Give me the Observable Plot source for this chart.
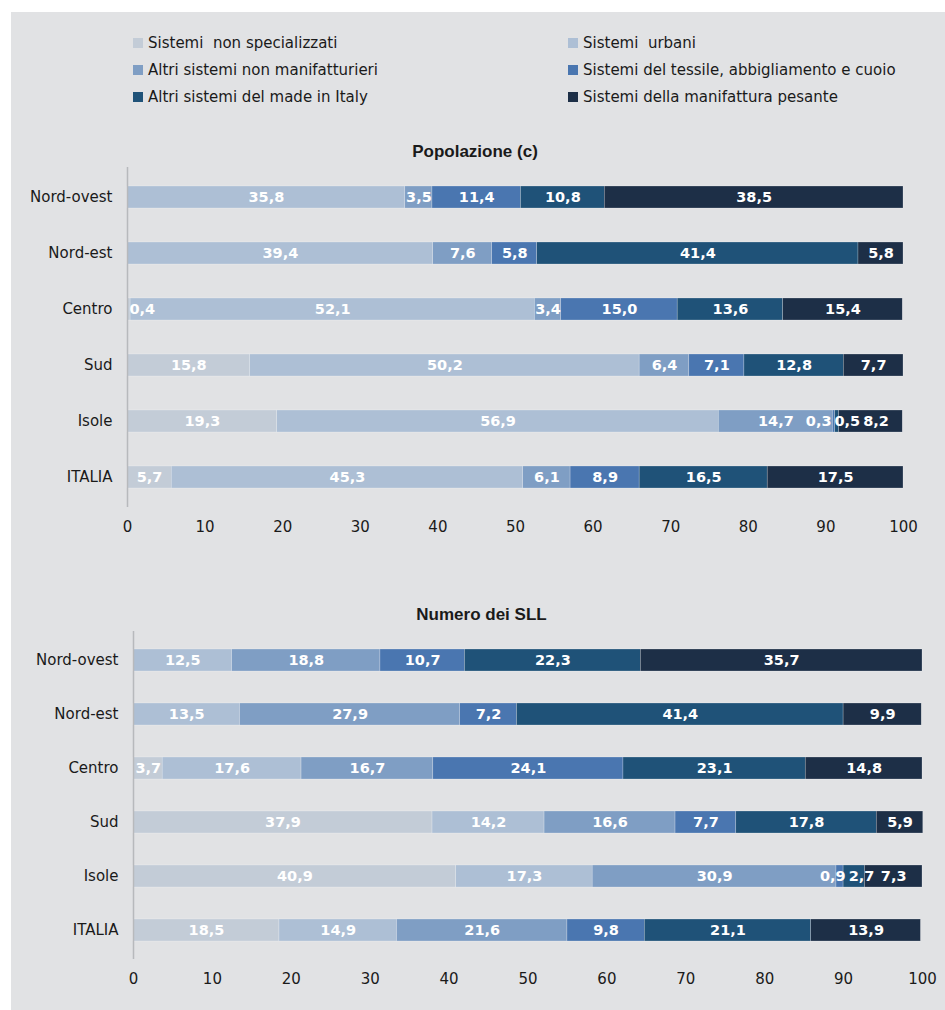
<!DOCTYPE html>
<html>
<head>
<meta charset="utf-8">
<script src="https://cdn.jsdelivr.net/npm/d3@7"></script>
<script src="https://cdn.jsdelivr.net/npm/@observablehq/plot@0.6"></script>
<style>
  html, body { margin: 0; padding: 0; background: #ffffff; }
  body { width: 945px; height: 1010px; position: relative; overflow: hidden; }
  #panel { position: absolute; left: 11px; top: 12px; width: 934px; height: 998px; background: #e1e2e4; }
  .abs { position: absolute; }
  .title { position: absolute; font-family: "Liberation Sans", Arial, sans-serif; font-weight: bold; font-size: 17px; color: #1a1a1a; text-align: center; line-height: 20px; }
  .leg { position: absolute; font-family: "DejaVu Sans", sans-serif; font-size: 15px; color: #1a1a1a; white-space: pre; line-height: 18px; display: flex; align-items: center; }
  .leg span.sw { display: inline-block; width: 10px; height: 10px; margin-right: 5px; }
</style>
</head>
<body>
<div id="panel"></div>
<div id="legend"></div>
<div class="title" style="left:0;width:950px;top:142px;">Popolazione (c)</div>
<div class="title" style="left:0;width:963px;top:605px;">Numero dei SLL</div>
<div id="c1" class="abs" style="left:0;top:130px;"></div>
<div id="c2" class="abs" style="left:0;top:560px;"></div>
<script>
// ---------------- DATA ----------------
const regions = ["Nord-ovest", "Nord-est", "Centro", "Sud", "Isole", "ITALIA"];
const systems = [
  "Sistemi  non specializzati",
  "Sistemi  urbani",
  "Altri sistemi non manifatturieri",
  "Sistemi del tessile, abbigliamento e cuoio",
  "Altri sistemi del made in Italy",
  "Sistemi della manifattura pesante"
];
const colors = ["#c3ccd7", "#adbfd5", "#7f9ec4", "#4a76b0", "#1f5278", "#1d2f47"];
const xTicks = [0, 10, 20, 30, 40, 50, 60, 70, 80, 90, 100];

// Popolazione (c) — values per region, in order of regions
const popNonSpecializzati = [0, 0, 0.4, 15.8, 19.3, 5.7];
const popUrbani           = [35.8, 39.4, 52.1, 50.2, 56.9, 45.3];
const popAltriNonManif    = [3.5, 7.6, 3.4, 6.4, 14.7, 6.1];
const popTessile          = [11.4, 5.8, 15.0, 7.1, 0.3, 8.9];
const popMadeInItaly      = [10.8, 41.4, 13.6, 12.8, 0.5, 16.5];
const popPesante          = [38.5, 5.8, 15.4, 7.7, 8.2, 17.5];

// Numero dei SLL
const sllNonSpecializzati = [0, 0, 3.7, 37.9, 40.9, 18.5];
const sllUrbani           = [12.5, 13.5, 17.6, 14.2, 17.3, 14.9];
const sllAltriNonManif    = [18.8, 27.9, 16.7, 16.6, 30.9, 21.6];
const sllTessile          = [10.7, 7.2, 24.1, 7.7, 0.9, 9.8];
const sllMadeInItaly      = [22.3, 41.4, 23.1, 17.8, 2.7, 21.1];
const sllPesante          = [35.7, 9.9, 14.8, 5.9, 7.3, 13.9];

const popSeries = [popNonSpecializzati, popUrbani, popAltriNonManif, popTessile, popMadeInItaly, popPesante];
const sllSeries = [sllNonSpecializzati, sllUrbani, sllAltriNonManif, sllTessile, sllMadeInItaly, sllPesante];

// ---------------- LEGEND ----------------
const legend = document.getElementById("legend");
const legCols = [133, 568];
const legRows = [43, 70, 97];
systems.forEach((s, i) => {
  const d = document.createElement("div");
  d.className = "leg";
  d.style.left = legCols[i % 2] + "px";
  d.style.top = (legRows[Math.floor(i / 2)] - 9) + "px";
  const sw = document.createElement("span");
  sw.className = "sw";
  sw.style.background = colors[i];
  d.appendChild(sw);
  d.appendChild(document.createTextNode(s));
  legend.appendChild(d);
});

// ---------------- CHART BUILDER ----------------
const canvas = document.createElement("canvas");
const ctx = canvas.getContext("2d");
const labelFont = "bold 14.5px 'DejaVu Sans'";
ctx.font = labelFont;

function fmt(v) { return v.toFixed(1).replace(".", ","); }

function build(series, opts) {
  const segs = [];
  const labels = [];
  const pxPerUnit = (opts.width - opts.marginLeft - opts.marginRight) / 100;
  const gap = 3 / pxPerUnit;
  const pad = 2 / pxPerUnit;
  regions.forEach((r, i) => {
    let acc = 0;
    const items = [];
    series.forEach((arr, j) => {
      const v = arr[i];
      if (v > 0) {
        segs.push({region: r, system: systems[j], x1: acc, x2: acc + v});
        const t = fmt(v);
        items.push({region: r, text: t, c: acc + v / 2, w: ctx.measureText(t).width / pxPerUnit});
      }
      acc += v;
    });
    // simple one-dimensional label repel
    let clusters = items.map(it => ({items: [it]}));
    const place = cl => {
      const total = cl.items.reduce((s, it) => s + it.w, 0) + gap * (cl.items.length - 1);
      let off = -total / 2;
      const offs = cl.items.map(it => { const o = off + it.w / 2; off += it.w + gap; return o; });
      let center = d3.mean(cl.items, (it, k) => it.c - offs[k]);
      center = Math.max(0 + pad + total / 2, Math.min(100 - pad - total / 2, center));
      cl.left = center - total / 2; cl.right = center + total / 2;
      cl.items.forEach((it, k) => it.x = center + offs[k]);
    };
    clusters.forEach(place);
    let changed = true;
    while (changed) {
      changed = false;
      for (let k = 0; k < clusters.length - 1; k++) {
        if (clusters[k].right + gap > clusters[k + 1].left) {
          clusters[k].items = clusters[k].items.concat(clusters[k + 1].items);
          clusters.splice(k + 1, 1);
          place(clusters[k]);
          changed = true;
          break;
        }
      }
    }
    items.forEach(it => labels.push(it));
  });

  return Plot.plot({
    width: opts.width,
    height: opts.height,
    marginTop: opts.marginTop,
    marginBottom: opts.marginBottom,
    marginLeft: opts.marginLeft,
    marginRight: opts.marginRight,
    style: {background: "transparent", fontFamily: "'DejaVu Sans', sans-serif", fontSize: "15px", color: "#1a1a1a", overflow: "visible"},
    x: {domain: [0, 100], ticks: xTicks, tickSize: 0, tickPadding: 14, label: null},
    y: {domain: regions, paddingInner: opts.padding, paddingOuter: opts.padding / 2, tickSize: 0, tickPadding: 15, label: null},
    color: {domain: systems, range: colors},
    marks: [
      Plot.barX(segs, {x1: "x1", x2: "x2", y: "region", fill: "system", stroke: "#ffffff", strokeWidth: 0.5, strokeOpacity: 0.45}),
      Plot.ruleX([0], {stroke: "#b7b9bc", strokeWidth: 1.5}),
      Plot.text(labels, {x: "x", y: "region", text: "text", fill: "#ffffff", fontWeight: "bold", fontSize: 14.5, fontFamily: "'DejaVu Sans', sans-serif"})
    ]
  });
}

document.getElementById("c1").appendChild(build(popSeries, {
  width: 945, height: 415, marginTop: 37, marginBottom: 38, marginLeft: 127, marginRight: 42, padding: 0.61
}));
document.getElementById("c2").appendChild(build(sllSeries, {
  width: 945, height: 450, marginTop: 71, marginBottom: 51, marginLeft: 133, marginRight: 23, padding: 0.59
}));
</script>
</body>
</html>
